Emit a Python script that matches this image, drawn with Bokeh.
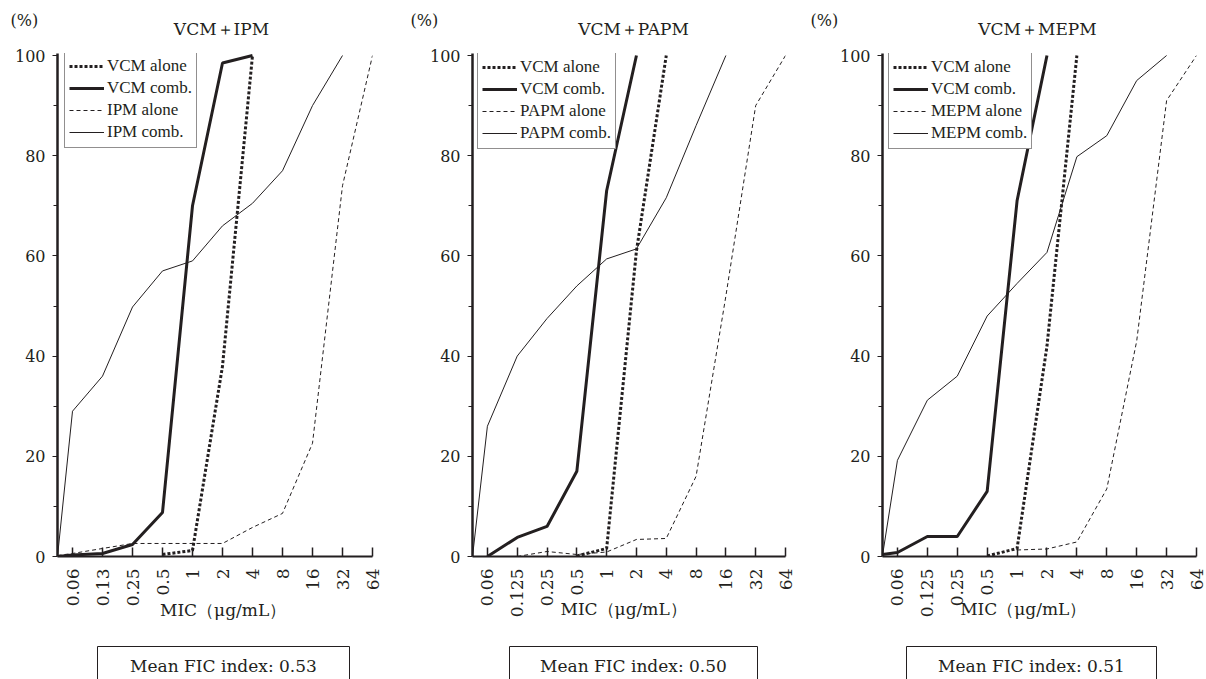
import math
from bokeh.plotting import figure
from bokeh.models import Range1d, FixedTicker
from bokeh.layouts import row, column
from bokeh.core.properties import value
from bokeh.embed import file_html
from bokeh.resources import INLINE

# ---------------- data ----------------
mic_labels_ipm = ["0.06", "0.13", "0.25", "0.5", "1", "2", "4", "8", "16", "32", "64"]
mic_labels_other = ["0.06", "0.125", "0.25", "0.5", "1", "2", "4", "8", "16", "32", "64"]
# x slots: the first slot is the origin on the y axis, then one per MIC label
x_slots = [-0.5, 0, 1, 2, 3, 4, 5, 6, 7, 8, 9, 10]
N = None

# cumulative % of strains inhibited
ipm_vcm_alone = [N, N, N, N, 0.4, 1.2, 38, 100, N, N, N, N]
ipm_vcm_comb = [0, 0.3, 0.6, 2.4, 8.8, 70, 98.5, 100, N, N, N, N]
ipm_alone = [0.2, 0.6, 1.6, 2.6, 2.6, 2.6, 2.6, 5.8, 8.6, 22.6, 74, 100]
ipm_comb = [0, 29, 36, 49.8, 57, 59, 66, 70.5, 77, 90, 100, N]

papm_vcm_alone = [N, N, N, N, 0.1, 1.6, 61, 100, N, N, N, N]
papm_vcm_comb = [N, 0, 3.8, 6, 17, 73, 100, N, N, N, N, N]
papm_alone = [N, N, 0, 1, 0.4, 0.9, 3.4, 3.6, 16, 52, 90, 100]
papm_comb = [0, 26, 40, 47.5, 54, 59.4, 61.4, 71.6, 86, 100, N, N]

mepm_vcm_alone = [N, N, N, N, 0.1, 1.6, 42, 100, N, N, N, N]
mepm_vcm_comb = [0.4, 0.8, 4, 4, 13, 71, 100, N, N, N, N, N]
mepm_alone = [N, N, N, N, N, 1.3, 1.5, 2.9, 13.5, 43, 91, 100]
mepm_comb = [0.2, 19.2, 31.2, 36, 48, 54.5, 60.7, 79.8, 84, 95, 100, N]

fic_index = ["0.53", "0.50", "0.51"]
partners = ["IPM", "PAPM", "MEPM"]
x_title = "MIC（μg/mL）"
y_title = "(%)"

INK = "#231f20"
SERIF = "DejaVu Serif"
LEG_FONT = "Liberation Serif"
NBSP = "\u00a0"


def pts(ys):
    xs, yv = [], []
    for x, y in zip(x_slots, ys):
        if y is not None:
            xs.append(x)
            yv.append(y)
    return xs, yv


def blank_fig(width, height):
    f = figure(width=width, height=height, x_range=Range1d(0, width), y_range=Range1d(0, height),
               output_backend="svg", toolbar_location=None, tools="",
               x_axis_location=None, y_axis_location=None, min_border=0)
    f.outline_line_color = None
    f.xgrid.grid_line_color = None
    f.ygrid.grid_line_color = None
    return f


def make_head(width, partner, title_x, pct_x):
    h = blank_fig(width, 44)
    h.text(x=[pct_x], y=[24], text=[y_title], text_align="left", text_baseline="middle",
           text_font=value(SERIF), text_font_size="16px", text_color=INK)
    h.text(x=[title_x], y=[16], text=["VCM＋" + partner], text_align="center",
           text_baseline="middle", text_font=value(SERIF), text_font_size="17px",
           text_color=INK)
    return h


def make_panel(partner, labels, vcm_alone, vcm_comb, alone, comb, width, left, right,
               mic_lead, mic_trail, mic_standoff, legend_loc):
    p = figure(width=width, height=596, x_range=Range1d(-0.5, 10), y_range=Range1d(0, 100.4),
               output_backend="svg", toolbar_location=None, tools="", title_location=None,
               min_border_left=left, min_border_right=right, min_border_top=9,
               min_border_bottom=84)
    p.outline_line_color = None
    p.xgrid.grid_line_color = None
    p.ygrid.grid_line_color = None
    p.background_fill_color = "white"

    x, y = pts(vcm_alone)
    p.line(x, y, line_color=INK, line_width=3, line_dash="3 2", legend_label="VCM alone")
    x, y = pts(vcm_comb)
    p.line(x, y, line_color=INK, line_width=3, legend_label="VCM comb.")
    x, y = pts(alone)
    p.line(x, y, line_color=INK, line_width=1, line_dash="4 3", legend_label=partner + " alone")
    x, y = pts(comb)
    p.line(x, y, line_color=INK, line_width=1, legend_label=partner + " comb.")

    # x axis
    xa = p.xaxis[0]
    xa.ticker = FixedTicker(ticks=list(range(11)))
    xa.major_label_overrides = {i: lab for i, lab in enumerate(labels)}
    xa.major_label_orientation = math.pi / 2
    xa.major_tick_in = 9
    xa.major_tick_out = 0
    xa.major_tick_line_color = INK
    xa.major_tick_line_width = 1.5
    xa.minor_tick_line_color = None
    xa.axis_line_color = INK
    xa.axis_line_width = 2
    xa.major_label_standoff = 12
    xa.major_label_text_font = SERIF
    xa.major_label_text_font_size = "17px"
    xa.major_label_text_color = INK
    xa.axis_label = NBSP * mic_lead + x_title + NBSP * mic_trail
    xa.axis_label_standoff = mic_standoff
    xa.axis_label_text_font = SERIF
    xa.axis_label_text_font_size = "17px"
    xa.axis_label_text_font_style = "normal"
    xa.axis_label_text_color = INK

    # y axis
    ya = p.yaxis[0]
    ya.ticker = FixedTicker(ticks=[0, 20, 40, 60, 80, 100], minor_ticks=[10, 30, 50, 70, 90])
    ya.major_tick_in = 0
    ya.major_tick_out = 5
    ya.minor_tick_in = 0
    ya.minor_tick_out = 4
    ya.major_tick_line_color = INK
    ya.minor_tick_line_color = INK
    ya.axis_line_color = INK
    ya.axis_line_width = 2.5
    ya.major_label_standoff = 7
    ya.major_label_text_font = SERIF
    ya.major_label_text_font_size = "16px"
    ya.major_label_text_color = INK

    # legend
    lg = p.legend[0]
    lg.location = legend_loc
    lg.label_text_font = LEG_FONT
    lg.label_text_font_size = "17px"
    lg.label_text_color = INK
    lg.glyph_width = 35
    lg.glyph_height = 22
    lg.label_height = 22
    lg.label_standoff = 3
    lg.spacing = 0
    lg.padding = 4
    lg.margin = 0
    lg.border_line_color = INK
    lg.border_line_width = 1
    lg.background_fill_alpha = 1
    return p


def make_box(width, bx0, bx1, fic):
    b = blank_fig(width, 39)
    b.quad(left=[bx0], right=[bx1], top=[33], bottom=[-5], fill_color=None,
           line_color=INK, line_width=1)
    b.text(x=[(bx0 + bx1) / 2], y=[14], text=["Mean FIC index: " + fic], text_align="center",
           text_baseline="alphabetic", text_font=value(SERIF), text_font_size="17px",
           text_color=INK)
    return b


h1 = make_head(408, partners[0], 221, 10)
h2 = make_head(400, partners[1], 225, 2)
h3 = make_head(398, partners[2], 229, 2)

p1 = make_panel(partners[0], mic_labels_ipm, ipm_vcm_alone, ipm_vcm_comb, ipm_alone, ipm_comb,
                408, 57, 36, 3, 0, -9, (7, 408))
p2 = make_panel(partners[1], mic_labels_other, papm_vcm_alone, papm_vcm_comb, papm_alone, papm_comb,
                400, 64, 23, 0, 2, -21, (5, 407))
p3 = make_panel(partners[2], mic_labels_other, mepm_vcm_alone, mepm_vcm_comb, mepm_alone, mepm_comb,
                398, 74, 10, 0, 6, -21, (6, 407))

b1 = make_box(408, 97, 349, fic_index[0])
b2 = make_box(400, 101, 349, fic_index[1])
b3 = make_box(398, 98, 348, fic_index[2])

layout = column(row(h1, h2, h3), row(p1, p2, p3), row(b1, b2, b3))
open("out.html", "w").write(file_html(layout, INLINE))
